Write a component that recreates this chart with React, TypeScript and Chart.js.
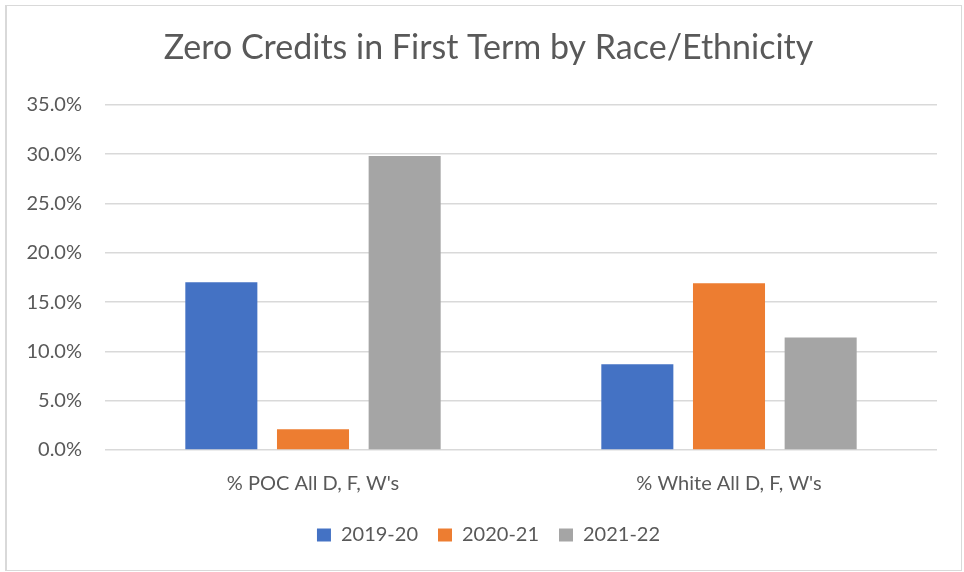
import React, { useEffect, useRef } from "react";
import { Chart, registerables } from "chart.js";

Chart.register(...registerables);

const categories = ["% POC All D, F, W's", "% White All D, F, W's"];
const seriesNames = ["2019-20", "2020-21", "2021-22"];
const values2019 = [17.0, 8.7];
const values2020 = [2.1, 16.9];
const values2021 = [29.8, 11.4];
const seriesColors = ["#4472C4", "#ED7D31", "#A5A5A5"];
const yMax = 35;
const yStep = 5;
const titleText = "Zero Credits in First Term by Race/Ethnicity";

const TEXT = "#595959";
const FONT = "Lato, 'Open Sans', sans-serif";

function measureWidest(labels: string[], font: string): number {
  const c = document.createElement("canvas");
  const ctx = c.getContext("2d");
  if (!ctx) return 55;
  ctx.font = font;
  return Math.max(...labels.map((l) => ctx.measureText(l).width));
}

export default function App() {
  const ref = useRef<HTMLCanvasElement | null>(null);

  useEffect(() => {
    if (!ref.current) return;
    const seriesValues = [values2019, values2020, values2021];
    const tickLabels: string[] = [];
    for (let v = 0; v <= yMax; v += yStep) tickLabels.push(v.toFixed(1) + "%");
    const widest = measureWidest(tickLabels, "20px Lato");
    const chart = new Chart(ref.current, {
      type: "bar",
      data: {
        labels: categories,
        datasets: seriesNames.map((name, i) => ({
          label: name,
          data: seriesValues[i],
          backgroundColor: seriesColors[i],
          borderWidth: 0,
          categoryPercentage: 0.661,
          barPercentage: 0.786,
        })),
      },
      options: {
        animation: false,
        responsive: false,
        maintainAspectRatio: false,
        layout: { padding: { left: 40, right: 27, top: 10, bottom: 17 } },
        plugins: {
          title: {
            display: true,
            text: titleText,
            color: TEXT,
            font: { family: FONT, size: 34, weight: "normal" },
            padding: { top: 18, bottom: 36 },
          },
          legend: {
            display: true,
            position: "bottom",
            labels: {
              color: TEXT,
              font: { family: FONT, size: 20 },
              boxWidth: 14,
              boxHeight: 13,
              padding: 20,
            },
          },
          tooltip: { enabled: false },
        },
        scales: {
          x: {
            grid: { display: false, drawTicks: false },
            border: { display: false },
            ticks: {
              color: TEXT,
              font: { family: FONT, size: 20 },
              padding: 22,
            },
            afterFit: (scale: any) => {
              scale.height -= 13;
            },
          },
          y: {
            min: 0,
            max: yMax,
            grid: { color: "#D9D9D9", lineWidth: 1.5, drawTicks: false },
            border: { display: false },
            ticks: {
              stepSize: yStep,
              color: TEXT,
              font: { family: FONT, size: 20 },
              mirror: true,
              crossAlign: "far",
              padding: -23 - widest,
              callback: (v: any) => Number(v).toFixed(1) + "%",
            },
            afterFit: (scale: any) => {
              scale.width = 65;
            },
          },
        },
      },
    });
    return () => chart.destroy();
  }, []);

  return (
    <div style={{ position: "fixed", left: 0, top: 0, width: 964, height: 572, background: "#fff" }}>
      <div
        style={{
          position: "absolute",
          left: 5,
          top: 5,
          width: 957,
          height: 566,
          boxSizing: "border-box",
          borderTop: "1px solid #D9D9D9",
          borderRight: "1px solid #D9D9D9",
          borderBottom: "1px solid #D9D9D9",
          borderLeft: "2px solid #D9D9D9",
        }}
      />
      <canvas ref={ref} width={964} height={572} style={{ position: "absolute", left: 0, top: 0, width: 964, height: 572 }} />
    </div>
  );
}
